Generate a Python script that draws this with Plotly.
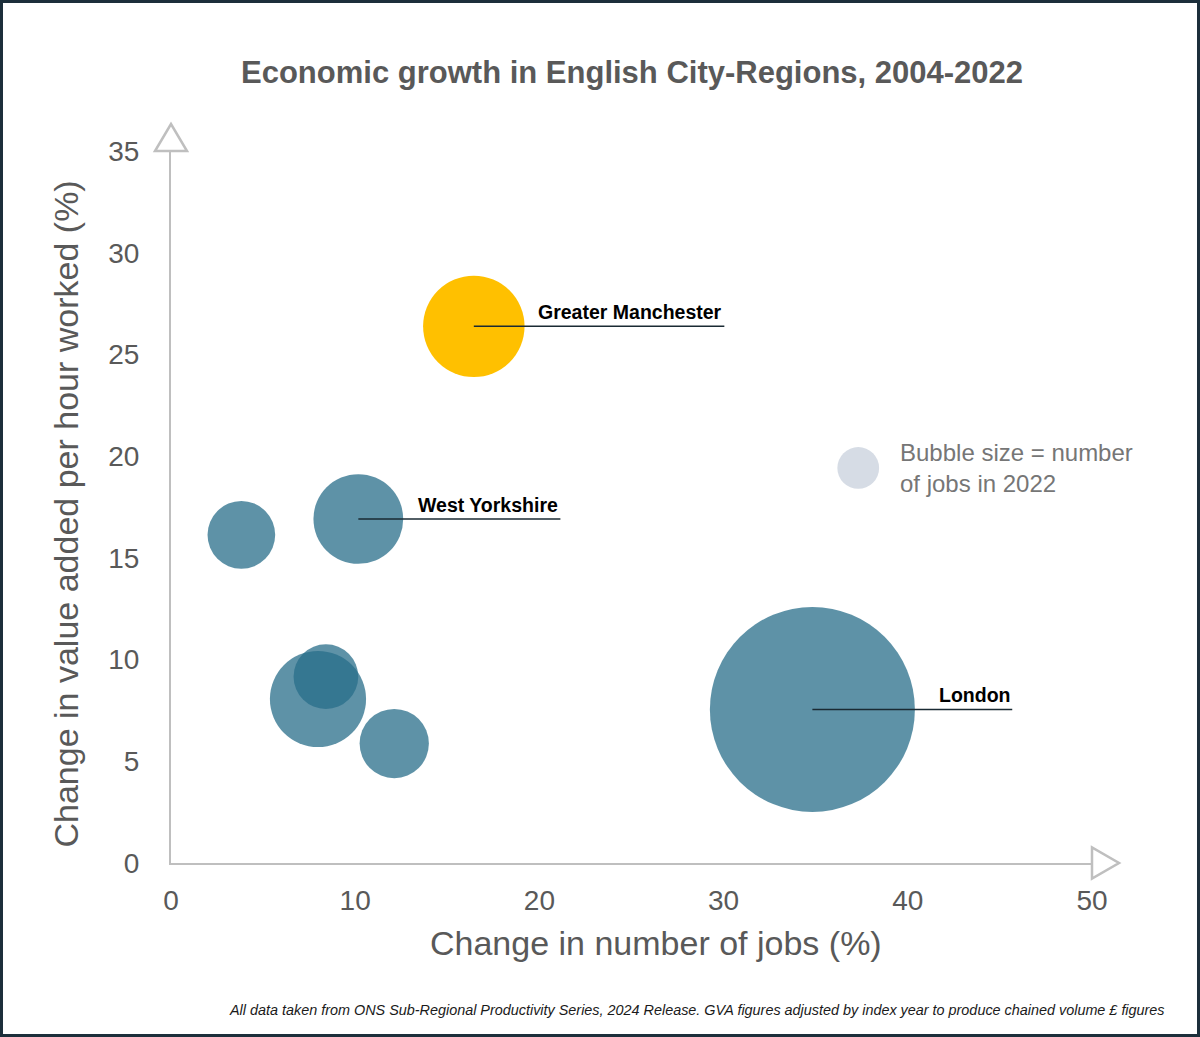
import plotly.graph_objects as go

# ---------------- data ----------------
regions = ["Greater Manchester", "West Yorkshire", "London",
           "City-region A", "City-region B", "City-region C", "City-region D"]
jobs_change = [16.44, 10.17, 34.82, 3.82, 7.98, 8.41, 12.12]        # % change in number of jobs
productivity_change = [26.38, 16.91, 7.55, 16.13, 8.06, 9.16, 5.87]  # % change in GVA per hour worked
jobs_2022 = [1.47, 1.15, 6.0, 0.654, 1.32, 0.597, 0.685]            # jobs in 2022 (millions, bubble size)
labelled = ["Greater Manchester", "West Yorkshire", "London"]
label_end_x = [30.04, 21.14, 45.67]   # where each label leader line ends

legend_x = [37.31]
legend_y = [19.42]
legend_jobs = [0.249]

x_ticks = [0, 10, 20, 30, 40, 50]
y_ticks = [0, 5, 10, 15, 20, 25, 30, 35]

title = "Economic growth in English City-Regions, 2004-2022"
x_title = "Change in number of jobs (%)"
y_title = "Change in value added per hour worked (%)"
footnote = ("All data taken from ONS Sub-Regional Productivity Series, 2024 Release. "
            "GVA figures adjusted by index year to produce chained volume £ figures")

# ---------------- styling ----------------
FONT = "Liberation Sans, Arial, sans-serif"
GREY = "#595959"
AXIS = "#bfbfbf"
BLUE = "rgb(40,110,138)"
YELLOW = "#FFC000"

W, H = 1200, 1037
ML, MR, MT, MB = 171, 108, 151, 174
PW, PH = W - ML - MR, H - MT - MB
max_d = 205
sizeref = 2 * max(jobs_2022) / max_d ** 2

fig = go.Figure()

# blue bubbles (all except Greater Manchester)
blue_idx = [i for i, r in enumerate(regions) if r != "Greater Manchester"]
fig.add_trace(go.Scatter(
    x=[jobs_change[i] for i in blue_idx],
    y=[productivity_change[i] for i in blue_idx],
    text=[regions[i] for i in blue_idx],
    mode="markers",
    marker=dict(size=[jobs_2022[i] for i in blue_idx], sizemode="area", sizeref=sizeref,
                color=BLUE, opacity=0.75, line=dict(width=0)),
    hoverinfo="text", showlegend=False, cliponaxis=False))

gm = regions.index("Greater Manchester")
fig.add_trace(go.Scatter(
    x=[jobs_change[gm]], y=[productivity_change[gm]], text=[regions[gm]],
    mode="markers",
    marker=dict(size=[jobs_2022[gm]], sizemode="area", sizeref=sizeref,
                color=YELLOW, opacity=1, line=dict(width=0)),
    hoverinfo="text", showlegend=False, cliponaxis=False))

# size legend bubble
fig.add_trace(go.Scatter(
    x=legend_x, y=legend_y, mode="markers",
    marker=dict(size=legend_jobs, sizemode="area", sizeref=sizeref,
                color="#d6dce5", opacity=1, line=dict(width=0)),
    hoverinfo="skip", showlegend=False, cliponaxis=False))

shapes = []
annotations = []

# leader lines + labels
for name, xe in zip(labelled, label_end_x):
    i = regions.index(name)
    x0, y0 = jobs_change[i], productivity_change[i]
    shapes.append(dict(type="line", xref="x", yref="y", x0=x0, y0=y0, x1=xe, y1=y0,
                       line=dict(color="#1a2a33", width=1.5), layer="above"))
    annotations.append(dict(x=xe, y=y0, xref="x", yref="y", text=f"<b>{name}</b>",
                            showarrow=False, xanchor="right", yanchor="bottom",
                            xshift=0, yshift=1,
                            font=dict(family=FONT, size=19.5, color="#000000")))

# legend text
annotations.append(dict(x=legend_x[0], y=legend_y[0], xref="x", yref="y",
                        text="Bubble size = number<br>of jobs in 2022", showarrow=False,
                        xanchor="left", yanchor="middle", align="left", xshift=40,
                        font=dict(family=FONT, size=24, color="#767676")))

# arrow heads (open triangles) - paper refs so they are not clipped
shapes.append(dict(type="path", xref="paper", yref="paper", xsizemode="pixel", ysizemode="pixel",
                   xanchor=0, yanchor=1, path="M-16,0 L16,0 L0,27 Z",
                   line=dict(color=AXIS, width=2.5), fillcolor="white", layer="above"))
shapes.append(dict(type="path", xref="paper", yref="paper", xsizemode="pixel", ysizemode="pixel",
                   xanchor=1, yanchor=0, path="M0,-15.5 L0,15.5 L27,0 Z",
                   line=dict(color=AXIS, width=2.5), fillcolor="white", layer="above"))

# outer border
shapes.append(dict(type="rect", xref="paper", yref="paper",
                   x0=(1.5 - ML) / PW, x1=(W - 1.5 - ML) / PW,
                   y0=(PH - (H - 1.5 - MT)) / PH, y1=(PH - (1.5 - MT)) / PH,
                   line=dict(color="#1c2f3b", width=3), fillcolor="rgba(0,0,0,0)"))

# titles
annotations.append(dict(x=0.5, y=(PH - (72 - MT)) / PH, xref="paper", yref="paper",
                        text=f"<b>{title}</b>", showarrow=False, xanchor="center", yanchor="middle",
                        font=dict(family=FONT, size=31, color=GREY)))
annotations.append(dict(x=(656 - ML) / PW, y=(PH - (943 - MT)) / PH, xref="paper", yref="paper",
                        text=x_title, showarrow=False, xanchor="center", yanchor="middle",
                        font=dict(family=FONT, size=34, color=GREY)))
annotations.append(dict(x=(65 - ML) / PW, y=(PH - (514.5 - MT)) / PH, xref="paper", yref="paper",
                        text=y_title, showarrow=False, xanchor="center", yanchor="middle",
                        textangle=-90, font=dict(family=FONT, size=34, color=GREY)))
annotations.append(dict(x=(1167 - ML) / PW, y=(PH - (1010 - MT)) / PH, xref="paper", yref="paper",
                        text=f"<i>{footnote}</i>", showarrow=False, xanchor="right", yanchor="middle",
                        font=dict(family=FONT, size=14.4, color="#1a1a1a")))

fig.update_layout(
    width=W, height=H,
    margin=dict(l=ML, r=MR, t=MT, b=MB, pad=0),
    paper_bgcolor="white", plot_bgcolor="white",
    shapes=shapes, annotations=annotations,
    xaxis=dict(range=[0, 50], tickvals=x_ticks, showgrid=False, zeroline=False,
               showline=True, linecolor=AXIS, linewidth=2, ticks="",
               ticklabelstandoff=11,
               tickfont=dict(family=FONT, size=28, color=GREY), fixedrange=True),
    yaxis=dict(range=[0, 35], tickvals=y_ticks, showgrid=False, zeroline=False,
               showline=True, linecolor=AXIS, linewidth=2, ticks="",
               ticklabelstandoff=24,
               tickfont=dict(family=FONT, size=28, color=GREY), fixedrange=True),
)

fig.write_html("out.html")
